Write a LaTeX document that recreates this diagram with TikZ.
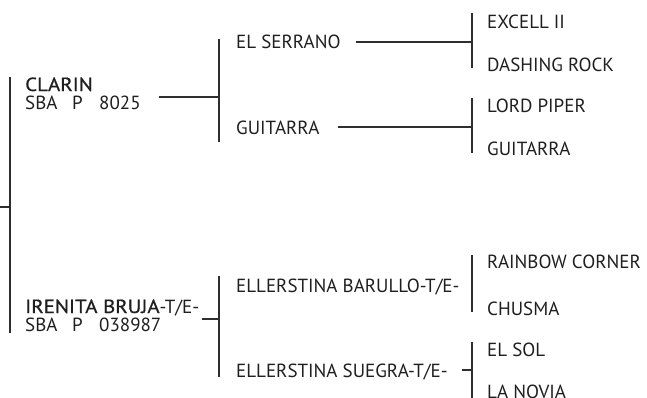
\documentclass[tikz,border=0pt]{standalone}
\usepackage{fontspec}
\setmainfont{PT Sans}
\newfontfamily\medfont[FakeBold=0.7,FakeStretch=1.1]{PT Sans}
\begin{document}
\begin{tikzpicture}[x=1pt,y=-1pt,
  txt/.style={anchor=base west,inner sep=0pt,font=\fontsize{19}{18}\selectfont,text=black!88},
  blk/.style={txt,align=left},
  ln/.style={line width=1.2pt,draw=black!82}]
\useasboundingbox (0,0) rectangle (647,397);
% generation 1 (base anchor = last line)
\node[blk] (clarin) at (25,109) {{\medfont CLARIN}\\\makebox[47pt][l]{SBA}\makebox[27pt][l]{P}8025};
\node[blk] (irenita) at (25,331) {{\medfont IRENITA BRUJA}-T/E-\\\makebox[47pt][l]{SBA}\makebox[27pt][l]{P}038987};
% generation 2
\node[txt] (serrano) at (236,48) {EL SERRANO};
\node[txt] (guitarra1) at (236,134) {GUITARRA};
\node[txt] (barullo) at (236,292) {ELLERSTINA BARULLO-T/E-};
\node[txt] (suegra) at (236,377) {ELLERSTINA SUEGRA-T/E-};
% generation 3
\node[txt] (excell) at (487,28) {EXCELL II};
\node[txt] (dashing) at (487,71) {DASHING ROCK};
\node[txt] (lordpiper) at (487,112) {LORD PIPER};
\node[txt] (guitarra2) at (487,155) {GUITARRA};
\node[txt] (rainbow) at (487,268) {RAINBOW CORNER};
\node[txt] (chusma) at (487,315) {CHUSMA};
\node[txt] (elsol) at (487,356) {EL SOL};
\node[txt] (lanovia) at (487,398) {LA NOVIA};
% junction coordinates
\coordinate (m0) at (0,207);
\coordinate (mt) at (10,77);
\coordinate (mb) at (10,333);
\coordinate (mm) at (10,207);
\coordinate (c1s) at (159,97);
\coordinate (c1t) at (219,39);
\coordinate (c1b) at (219,142);
\coordinate (c1m) at (219,97);
\coordinate (c2s) at (202,319);
\coordinate (c2t) at (219,276);
\coordinate (c2b) at (219,377);
\coordinate (c2m) at (219,319);
\coordinate (s1s) at (356,42);
\coordinate (s1t) at (472,13);
\coordinate (s1b) at (472,68);
\coordinate (s1m) at (472,42);
\coordinate (s2s) at (338,127);
\coordinate (s2t) at (472,98);
\coordinate (s2b) at (472,153);
\coordinate (s2m) at (472,127);
\coordinate (s3t) at (472,255);
\coordinate (s3b) at (472,312);
\coordinate (s4s) at (462,370);
\coordinate (s4t) at (472,342);
\coordinate (s4b) at (472,400);
\coordinate (s4m) at (472,370);
% connectors
\draw[ln] (m0) -- (mm);
\draw[ln] (mt) -- (mb);
\draw[ln] (c1s) -- (c1m);
\draw[ln] (c1t) -- (c1b);
\draw[ln] (c2s) -- (c2m);
\draw[ln] (c2t) -- (c2b);
\draw[ln] (s1s) -- (s1m);
\draw[ln] (s1t) -- (s1b);
\draw[ln] (s2s) -- (s2m);
\draw[ln] (s2t) -- (s2b);
\draw[ln] (s3t) -- (s3b);
\draw[ln] (s4s) -- (s4m);
\draw[ln] (s4t) -- (s4b);
\end{tikzpicture}
\end{document}
